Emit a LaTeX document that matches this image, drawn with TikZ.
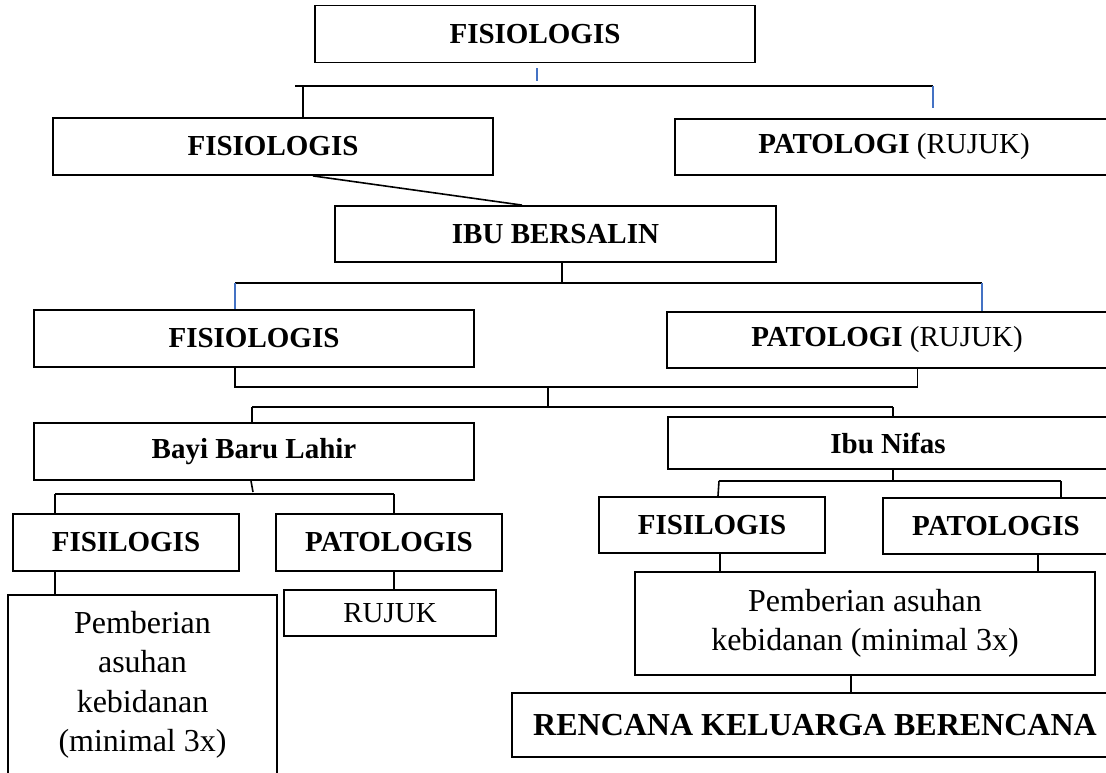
\documentclass[tikz,border=0pt]{standalone}
\usepackage{fontspec}
\setmainfont{Liberation Serif}
\definecolor{tickblue}{RGB}{68,114,196}
\newcommand{\lblfont}{\fontsize{29}{35}\selectfont}
\newcommand{\txtfont}{\fontsize{32}{39.5}\selectfont}
\tikzset{
    card/.style={rectangle,draw,line width=1.8pt,inner sep=0pt,font=\lblfont\bfseries},
    plain/.style={card,font=\lblfont},
    note/.style={card,font=\txtfont,align=center},
    bignote/.style={card,font=\txtfont\bfseries},
    wire/.style={line width=1.6pt},
    bluewire/.style={line width=1.4pt,draw=tickblue},
    }

\begin{document}
\begin{tikzpicture}[x=1pt,y=-1pt]
    \useasboundingbox (0,0) rectangle (1106,772);
    \clip (0,0) rectangle (1106,772);

		\node[card,minimum width=440,minimum height=57] (top) at (535,34) {FISIOLOGIS};
		\node[card,minimum width=440,minimum height=57] (fisA) at (273,146.5) {FISIOLOGIS};
		\node[card,minimum width=438,minimum height=56] (patA) at (894,147) {PATOLOGI {\mdseries(RUJUK)}};
		\node[card,minimum width=441,minimum height=56] (ibu) at (555.5,234) {IBU BERSALIN};
		\node[card,minimum width=440,minimum height=57] (fisB) at (254,338.5) {FISIOLOGIS};
		\node[card,minimum width=440,minimum height=56] (patB) at (887,340) {PATOLOGI {\mdseries(RUJUK)}};
		\node[card,minimum width=440,minimum height=57] (bayi) at (254,451.5) {Bayi Baru Lahir};
		\node[card,minimum width=440,minimum height=52] (nifas) at (888,443) {Ibu Nifas};
		\node[card,minimum width=226,minimum height=57] (fisC) at (126,542.5) {FISILOGIS};
		\node[card,minimum width=226,minimum height=57] (patC) at (389,542.5) {PATOLOGIS};
		\node[note,minimum width=269,minimum height=180] (pemA) at (142.5,685) {Pemberian\\asuhan\\kebidanan\\(minimal 3x)};
		\node[plain,minimum width=212,minimum height=46] (rujuk) at (390,613) {RUJUK};
		\node[card,minimum width=226,minimum height=56] (fisD) at (712,525) {FISILOGIS};
		\node[card,minimum width=226,minimum height=56] (patD) at (996,526) {PATOLOGIS};
		\node[note,minimum width=460,minimum height=103] (pemB) at (865,623.5) {Pemberian asuhan\\kebidanan (minimal 3x)};
		\node[bignote,minimum width=606,minimum height=64] (kb) at (815,725) {RENCANA KELUARGA BERENCANA};

		\coordinate (bar1l) at (295,86);
		\coordinate (bar1r) at (933,86);
		\coordinate (bar2l) at (235,283);
		\coordinate (bar2r) at (982,283);
		\coordinate (mid3) at (548,387);
		\coordinate (bar3l) at (252,407);
		\coordinate (bar3r) at (893,407);
		\coordinate (bar4l) at (55,494);
		\coordinate (bar4r) at (394,494);
		\coordinate (bar5l) at (719,481);
		\coordinate (bar5r) at (1061,481);

	\draw[bluewire] ([shift={(2,5)}]top.south) -- ++(0,13);
	\draw[wire] (bar1l) -- (bar1r);
	\draw[wire] ([xshift=30]fisA.north |- bar1l) -- ([xshift=30]fisA.north);
	\draw[bluewire] (bar1r) -- ++(0,22);
	\draw[wire] ([xshift=40]fisA.south) -- ([xshift=-33.5]ibu.north);

	\draw[wire] ([xshift=6.5]ibu.south) -- ([xshift=6.5]ibu.south |- bar2l);
	\draw[wire] (bar2l) -- (bar2r);
	\draw[bluewire] (bar2l) -- (bar2l |- fisB.north);
	\draw[bluewire] (bar2r) -- (bar2r |- patB.north);

	\draw[wire] (fisB.south -| bar2l) -- (bar2l |- mid3) -| ([xshift=30.5]patB.south);
	\draw[wire] (mid3) -- (mid3 |- bar3l);
	\draw[wire] (bar3l) -- (bar3r);
	\draw[wire] (bar3l) -- (bar3l |- bayi.north);
	\draw[wire] (bar3r) -- (bar3r |- nifas.north);

	\draw[wire] ([xshift=-3]bayi.south) -- ([xshift=-1,yshift=2]bayi.south |- bar4l);
	\draw[wire] (bar4l) -- (bar4r);
	\draw[wire] (bar4l) -- (bar4l |- fisC.north);
	\draw[wire] (bar4r) -- (bar4r |- patC.north);
	\draw[wire] (fisC.south -| bar4l) -- (pemA.north -| bar4l);
	\draw[wire] (patC.south -| bar4r) -- (rujuk.north -| bar4r);

	\draw[wire] ([xshift=5]nifas.south) -- ([xshift=5]nifas.south |- bar5l);
	\draw[wire] (bar5l) -- (bar5r);
	\draw[wire] (bar5l) -- ([xshift=6]fisD.north);
	\draw[wire] (bar5r) -- (bar5r |- patD.north);
	\draw[wire] ([xshift=8]fisD.south) -- ([xshift=8]fisD.south |- pemB.north);
	\draw[wire] ([xshift=42]patD.south) -- ([xshift=42]patD.south |- pemB.north);
	\draw[wire] ([xshift=-14]pemB.south) -- ([xshift=-14]pemB.south |- kb.north);
\end{tikzpicture}
\end{document}
